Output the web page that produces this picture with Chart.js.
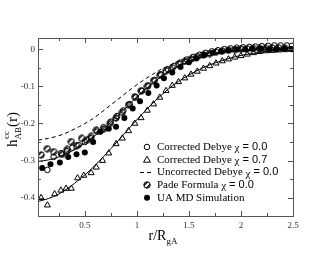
<!DOCTYPE html>
<html>
<head>
<meta charset="utf-8">
<script src="https://cdn.jsdelivr.net/npm/chart.js@4.4.0/dist/chart.umd.min.js"></script>
<style>
  html, body { margin: 0; padding: 0; background: #fff; }
  #wrap { width: 330px; height: 255px; }
</style>
</head>
<body>
<div id="wrap"><canvas id="chart"></canvas></div>
<script>
// tick labels
const xTicks = [0.5, 1, 1.5, 2, 2.5];
const yTicks = [0, -0.1, -0.2, -0.3, -0.4];

// smooth curves (r / h)
const curveR      = [0.05, 0.15, 0.25, 0.35, 0.45, 0.55, 0.65, 0.75, 0.85, 0.95, 1.05, 1.15, 1.25, 1.35, 1.45, 1.55, 1.65, 1.75, 1.85, 1.95, 2.1, 2.3, 2.5];
const corrLine    = [-0.302, -0.298, -0.29, -0.278, -0.262, -0.243, -0.221, -0.197, -0.17, -0.142, -0.116, -0.092, -0.071, -0.054, -0.04, -0.029, -0.02, -0.013, -0.008, -0.005, -0.002, 0, 0];
const corr07Line  = [-0.41, -0.402, -0.39, -0.372, -0.35, -0.326, -0.298, -0.268, -0.237, -0.205, -0.175, -0.146, -0.12, -0.097, -0.078, -0.062, -0.048, -0.037, -0.028, -0.02, -0.012, -0.005, -0.001];
const uncorrLine  = [-0.245, -0.24, -0.233, -0.222, -0.208, -0.192, -0.172, -0.15, -0.128, -0.106, -0.086, -0.068, -0.052, -0.039, -0.029, -0.021, -0.014, -0.009, -0.006, -0.003, -0.001, 0, 0];

// corrected Debye chi = 0.0 (open circles)
const corrR = [0.14, 0.2, 0.27, 0.33, 0.38, 0.44, 0.5, 0.56, 0.62, 0.68, 0.75, 0.81, 0.87, 0.93, 0.99, 1.05, 1.11, 1.17, 1.23, 1.3, 1.36, 1.42, 1.48, 1.54, 1.6, 1.66, 1.72, 1.78, 1.84, 1.9, 1.96, 2.02, 2.08, 2.14, 2.2, 2.26, 2.32, 2.38, 2.44, 2.49];
const corrH = [-0.325, -0.29, -0.28, -0.275, -0.265, -0.258, -0.25, -0.24, -0.222, -0.21, -0.195, -0.18, -0.165, -0.148, -0.13, -0.112, -0.098, -0.083, -0.068, -0.055, -0.045, -0.036, -0.028, -0.021, -0.015, -0.01, -0.006, -0.003, 0, 0.002, 0.004, 0.005, 0.006, 0.007, 0.008, 0.009, 0.01, 0.01, 0.01, 0.009];

// corrected Debye chi = 0.7 (triangles)
const triR = [0.08, 0.14, 0.21, 0.27, 0.32, 0.37, 0.43, 0.49, 0.56, 0.61, 0.67, 0.73, 0.8, 0.86, 0.92, 0.98, 1.04, 1.1, 1.16, 1.22, 1.28, 1.34, 1.4, 1.46, 1.52, 1.58, 1.64, 1.7, 1.76, 1.82, 1.88, 1.94, 2.0, 2.06, 2.12, 2.18, 2.24, 2.3, 2.36, 2.42, 2.48];
const triH = [-0.40, -0.42, -0.39, -0.38, -0.375, -0.375, -0.347, -0.34, -0.333, -0.318, -0.3, -0.28, -0.255, -0.24, -0.22, -0.2, -0.185, -0.165, -0.148, -0.13, -0.112, -0.098, -0.088, -0.078, -0.068, -0.06, -0.052, -0.045, -0.038, -0.032, -0.027, -0.022, -0.018, -0.014, -0.01, -0.007, -0.005, -0.004, -0.003, -0.002, -0.001];

// Pade formula chi = 0.0 (hatched circles)
const padeR = [0.08, 0.14, 0.2, 0.28, 0.33, 0.37, 0.42, 0.47, 0.52, 0.56, 0.61, 0.68, 0.74, 0.8, 0.86, 0.92, 0.98, 1.04, 1.1, 1.16, 1.22, 1.28, 1.34, 1.4, 1.46, 1.52, 1.58, 1.64, 1.7, 1.76, 1.82, 1.88, 1.94, 2.0, 2.06, 2.12, 2.18, 2.24, 2.3, 2.36, 2.42];
const padeH = [-0.285, -0.268, -0.276, -0.283, -0.27, -0.249, -0.26, -0.24, -0.245, -0.235, -0.218, -0.215, -0.2, -0.185, -0.17, -0.15, -0.128, -0.112, -0.1, -0.085, -0.07, -0.058, -0.05, -0.04, -0.033, -0.027, -0.02, -0.015, -0.012, -0.008, -0.005, -0.003, -0.001, 0, 0.001, 0.002, 0.002, 0.002, 0.003, 0.004, 0.003];

// UA MD simulation (filled circles)
const mdR = [0.09, 0.17, 0.26, 0.34, 0.42, 0.5, 0.58, 0.65, 0.73, 0.8, 0.88, 0.96, 1.03, 1.11, 1.19, 1.26, 1.34, 1.42, 1.5, 1.57, 1.65, 1.73, 1.81, 1.88, 1.96, 2.04, 2.11, 2.19, 2.27, 2.34, 2.42, 2.49];
const mdH = [-0.32, -0.31, -0.305, -0.29, -0.283, -0.278, -0.25, -0.222, -0.214, -0.209, -0.185, -0.16, -0.14, -0.118, -0.098, -0.078, -0.063, -0.048, -0.035, -0.025, -0.016, -0.01, -0.006, -0.003, -0.001, 0, 0.001, 0.001, 0, 0, 0.001, 0];

const legendItems = [
  { sym: 'circle',   name: 'Corrected Debye ', chi: ' = 0.0' },
  { sym: 'triangle', name: 'Corrected Debye ', chi: ' = 0.7' },
  { sym: 'dash',     name: 'Uncorrected Debye ', chi: ' = 0.0' },
  { sym: 'hatch',    name: 'Pade Formula ', chi: ' = 0.0' },
  { sym: 'filled',   name: 'UA MD Simulation', chi: null }
];

const serif = '"Liberation Serif", "DejaVu Serif", serif';
const sans = '"Liberation Sans", Arial, sans-serif';
const axisColor = '#555';

const pts = (xs, ys) => xs.map((v, i) => ({ x: v, y: ys[i] }));

// hatched circle symbol
function hatchCircle() {
  const c = document.createElement('canvas');
  c.width = 8; c.height = 8;
  const g = c.getContext('2d');
  g.strokeStyle = '#000'; g.lineWidth = 1;
  g.beginPath(); g.arc(4, 4, 3.2, 0, Math.PI * 2); g.stroke();
  g.save();
  g.beginPath(); g.arc(4, 4, 3.2, 0, Math.PI * 2); g.clip();
  g.lineWidth = 1.2;
  g.beginPath();
  g.moveTo(0, 5.5); g.lineTo(5.5, 0);
  g.moveTo(2.5, 8); g.lineTo(8, 2.5);
  g.stroke();
  g.restore();
  return c;
}
const hatchImg = hatchCircle();

const frame = {
  id: 'frame',
  afterDraw(chart) {
    const { ctx, chartArea: a, scales: { x, y } } = chart;
    ctx.save();
    ctx.strokeStyle = axisColor;
    ctx.lineWidth = 1;
    ctx.strokeRect(a.left + 0.5, a.top + 0.5, a.right - a.left, a.bottom - a.top);
    ctx.beginPath();
    // x ticks, major + minor, bottom and top
    for (let v = 0.25; v <= 2.5001; v += 0.25) {
      const px = Math.round(x.getPixelForValue(v)) + 0.5;
      const len = Math.abs(v / 0.5 - Math.round(v / 0.5)) < 1e-6 ? 5 : 3;
      ctx.moveTo(px, a.bottom); ctx.lineTo(px, a.bottom - len);
      ctx.moveTo(px, a.top); ctx.lineTo(px, a.top + len);
    }
    for (let v = 0; v >= -0.4001; v -= 0.05) {
      const py = Math.round(y.getPixelForValue(v)) + 0.5;
      const len = Math.abs(v / 0.1 - Math.round(v / 0.1)) < 1e-6 ? 5 : 3;
      ctx.moveTo(a.left, py); ctx.lineTo(a.left + len, py);
      ctx.moveTo(a.right, py); ctx.lineTo(a.right - len, py);
    }
    ctx.stroke();

    // legend
    const lx = 147, tx = 157;
    let ly = 147;
    ctx.textBaseline = 'middle';
    legendItems.forEach(it => {
      ctx.strokeStyle = '#000'; ctx.fillStyle = '#000'; ctx.lineWidth = 1;
      if (it.sym === 'circle') {
        ctx.beginPath(); ctx.arc(lx, ly, 2.8, 0, Math.PI * 2); ctx.stroke();
      } else if (it.sym === 'filled') {
        ctx.beginPath(); ctx.arc(lx, ly, 3, 0, Math.PI * 2); ctx.fill();
      } else if (it.sym === 'triangle') {
        ctx.beginPath(); ctx.moveTo(lx, ly - 3.5); ctx.lineTo(lx + 3.5, ly + 2.5); ctx.lineTo(lx - 3.5, ly + 2.5); ctx.closePath(); ctx.stroke();
      } else if (it.sym === 'hatch') {
        ctx.drawImage(hatchImg, lx - 4, Math.round(ly) - 4);
      } else {
        ctx.setLineDash([4, 3]);
        ctx.beginPath(); ctx.moveTo(140, Math.round(ly) + 0.5); ctx.lineTo(152, Math.round(ly) + 0.5); ctx.stroke();
        ctx.setLineDash([]);
      }
      ctx.font = '11px ' + serif;
      ctx.fillText(it.name, tx, ly);
      let w = ctx.measureText(it.name).width;
      if (it.chi) {
        ctx.fillText('\u03c7', tx + w, ly + 1.5);
        w += ctx.measureText('\u03c7').width;
        ctx.font = '11px ' + sans;
        ctx.fillText(it.chi, tx + w, ly);
      }
      ly += 12.7;
    });

    // y title: h^cc_AB(r)
    ctx.save();
    ctx.translate(17, (a.top + a.bottom) / 2 + 20);
    ctx.rotate(-Math.PI / 2);
    ctx.textBaseline = 'alphabetic';
    ctx.font = '15px ' + serif;
    ctx.fillText('h', 0, 0);
    let hx = ctx.measureText('h').width;
    ctx.font = '9px ' + serif;
    ctx.fillText('cc', hx + 0.5, -8);
    ctx.fillText('AB', hx, 4);
    hx += ctx.measureText('AB').width;
    ctx.font = '15px ' + serif;
    ctx.fillText('(r)', hx, 0);
    ctx.restore();

    // x title: r/R_gA
    const cx = (a.left + a.right) / 2 - 17;
    ctx.font = '14px ' + serif;
    ctx.textBaseline = 'alphabetic';
    ctx.fillText('r/R', cx, 240);
    const rw = ctx.measureText('r/R').width;
    ctx.font = '9px ' + serif;
    ctx.fillText('gA', cx + rw, 244);
    ctx.restore();
  }
};

const lineStyle = { showLine: true, pointRadius: 0, borderColor: '#000', borderWidth: 1, cubicInterpolationMode: 'monotone' };

new Chart(document.getElementById('chart'), {
  type: 'scatter',
  data: {
    datasets: [
      { data: pts(mdR, mdH), pointStyle: 'circle', pointRadius: 3, backgroundColor: '#000', borderColor: '#000', borderWidth: 0, showLine: false, order: 1 },
      { data: pts(corrR, corrH), pointStyle: 'circle', pointRadius: 2.8, backgroundColor: 'rgba(0,0,0,0)', borderColor: '#000', borderWidth: 1, showLine: false, order: 2 },
      { data: pts(padeR, padeH), pointStyle: hatchImg, showLine: false, order: 3 },
      { data: pts(triR, triH), pointStyle: 'triangle', pointRadius: 3.5, backgroundColor: 'rgba(0,0,0,0)', borderColor: '#000', borderWidth: 1, showLine: false, order: 4 },
      { ...lineStyle, data: pts(curveR, corrLine), order: 5 },
      { ...lineStyle, data: pts(curveR, corr07Line), order: 6 },
      { ...lineStyle, data: pts(curveR, uncorrLine), borderDash: [4, 3], order: 7 }
    ]
  },
  options: {
    responsive: true,
    maintainAspectRatio: false,
    animation: false,
    events: [],
    layout: { padding: { top: 38, right: 37, left: 0, bottom: 0 } },
    plugins: { legend: { display: false }, tooltip: { enabled: false } },
    scales: {
      x: {
        type: 'linear', min: 0.05, max: 2.5,
        grid: { display: false, drawTicks: false },
        border: { display: false },
        ticks: { font: { family: serif, size: 9 }, color: '#333', padding: 4, maxRotation: 0, autoSkip: false, callback: v => String(v) },
        afterBuildTicks: s => { s.ticks = xTicks.map(v => ({ value: v })); },
        afterFit: s => { s.height = 39; }
      },
      y: {
        type: 'linear', min: -0.449, max: 0.03,
        grid: { display: false, drawTicks: false },
        border: { display: false },
        ticks: { font: { family: serif, size: 9 }, color: '#333', padding: 3, autoSkip: false, callback: v => String(v) },
        afterBuildTicks: s => { s.ticks = yTicks.map(v => ({ value: v })); },
        afterFit: s => { s.width = 38; }
      }
    }
  },
  plugins: [frame]
});
</script>
</body>
</html>
